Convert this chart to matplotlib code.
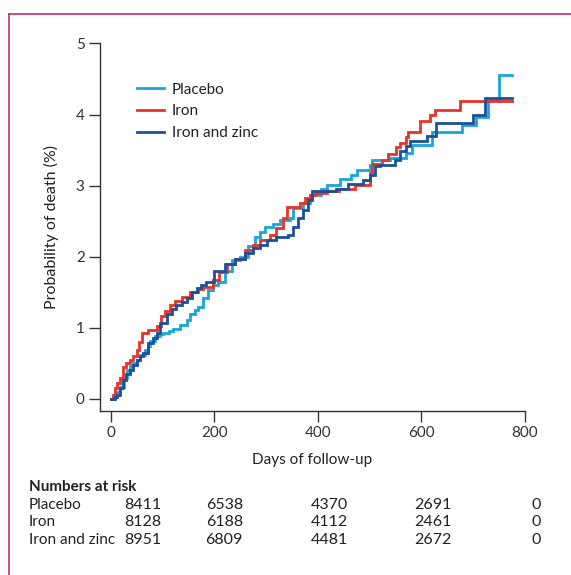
import matplotlib
matplotlib.use("Agg")
import matplotlib.pyplot as plt
from matplotlib.lines import Line2D

plt.rcParams['font.family'] = ['Lato', 'DejaVu Sans']

# Kaplan-Meier style step data (days, probability of death %)
placebo_days = [0, 5, 10, 18, 25, 31, 38, 44, 50, 57, 66, 72, 76, 86, 95, 102, 112, 121, 134, 147,
                153, 162, 169, 179, 188, 198, 208, 220, 235, 250, 265, 278, 288, 298, 314, 327, 346,
                352, 371, 385, 407, 417, 443, 465, 475, 500, 504, 540, 571, 581, 620, 678, 706, 729,
                750, 774]
placebo_prob = [0, 0.03, 0.10, 0.17, 0.30, 0.41, 0.46, 0.50, 0.55, 0.62, 0.69, 0.75, 0.81, 0.88, 0.91,
                0.93, 0.96, 0.99, 1.04, 1.11, 1.20, 1.25, 1.30, 1.42, 1.53, 1.60, 1.65, 1.80, 1.95, 2.00,
                2.15, 2.28, 2.35, 2.42, 2.46, 2.52, 2.54, 2.69, 2.75, 2.87, 2.96, 3.01, 3.10, 3.15, 3.22,
                3.29, 3.36, 3.39, 3.46, 3.57, 3.76, 3.85, 3.97, 4.20, 4.56, 4.56]

iron_days = [0, 4, 8, 12, 18, 24, 30, 37, 44, 50, 55, 60, 73, 89, 98, 105, 114, 125, 137, 153, 168,
             179, 198, 210, 225, 240, 260, 275, 288, 307, 320, 333, 340, 365, 375, 385, 394, 417, 440,
             471, 500, 504, 523, 535, 550, 558, 571, 575, 597, 598, 616, 626, 674, 774]
iron_prob = [0, 0.05, 0.15, 0.22, 0.30, 0.45, 0.50, 0.55, 0.60, 0.69, 0.80, 0.93, 0.97, 1.02, 1.16,
             1.24, 1.32, 1.38, 1.44, 1.51, 1.55, 1.58, 1.67, 1.78, 1.90, 1.97, 2.10, 2.17, 2.24, 2.31,
             2.40, 2.54, 2.70, 2.75, 2.82, 2.87, 2.89, 2.92, 2.96, 3.01, 3.18, 3.31, 3.36, 3.45, 3.55,
             3.60, 3.68, 3.76, 3.83, 3.91, 3.99, 4.07, 4.19, 4.19]

zinc_days = [0, 8, 12, 18, 24, 30, 37, 44, 50, 57, 63, 73, 82, 89, 95, 108, 118, 127, 137, 147, 157,
             166, 175, 185, 200, 220, 240, 260, 275, 288, 301, 320, 343, 352, 362, 371, 381, 388, 436,
             459, 488, 500, 510, 520, 549, 558, 571, 578, 610, 628, 699, 723, 774]
zinc_prob = [0, 0.02, 0.05, 0.15, 0.27, 0.35, 0.41, 0.48, 0.55, 0.60, 0.64, 0.79, 0.86, 0.93, 1.07,
             1.20, 1.27, 1.32, 1.37, 1.42, 1.50, 1.56, 1.60, 1.65, 1.80, 1.90, 1.97, 2.05, 2.12, 2.17,
             2.24, 2.28, 2.31, 2.42, 2.54, 2.66, 2.80, 2.92, 2.96, 3.03, 3.08, 3.15, 3.27, 3.29, 3.36,
             3.49, 3.56, 3.63, 3.70, 3.88, 3.99, 4.24, 4.24]

groups = ["Placebo", "Iron", "Iron and zinc"]
colors = ["#1aa6d4", "#e8332a", "#1c4f9c"]
at_risk = {
    "Placebo": [8411, 6538, 4370, 2691, 0],
    "Iron": [8128, 6188, 4112, 2461, 0],
    "Iron and zinc": [8951, 6809, 4481, 2672, 0],
}

W, H = 571, 575
fig = plt.figure(figsize=(W / 100, H / 100), dpi=100)
ax = fig.add_axes([100 / W, 1 - 411 / H, 425 / W, 367.5 / H])

series = [(placebo_days, placebo_prob), (iron_days, iron_prob), (zinc_days, zinc_prob)]
for (d, p), name, c in zip(series, groups, colors):
    ax.step(d, p, where="post", color=c, lw=2.0, label=name, solid_joinstyle="miter")

ax.set_xlim(-20.5, 800)
ax.set_ylim(-0.17, 5)
ax.set_xticks([0, 200, 400, 600, 800])
ax.set_yticks([0, 1, 2, 3, 4, 5])
for s in ["top", "right"]:
    ax.spines[s].set_visible(False)
for s in ["left", "bottom"]:
    ax.spines[s].set_color("#333333")
    ax.spines[s].set_linewidth(1.0)
ax.tick_params(direction="out", length=8, width=1.0, color="#333333",
               labelsize=11, labelcolor="#333333", pad=3)
ax.set_xlabel("Days of follow-up", fontsize=11, color="#222222", labelpad=9)
ax.set_ylabel("Probability of death (%)", fontsize=11.5, color="#222222", labelpad=12)

leg = ax.legend(loc="upper left", bbox_to_anchor=(0.087, 0.893), frameon=False,
                fontsize=11, handlelength=1.8, handletextpad=0.5, labelspacing=0.5,
                borderpad=0, borderaxespad=0)
for t in leg.get_texts():
    t.set_color("#222222")

# numbers at risk table
fig.text(29 / W, 1 - 487 / H, "Numbers at risk", fontsize=11, fontweight="bold",
         color="#222222", va="center", ha="left")
row_y = [505, 522, 540]
col_right = [161, 243, 348, 452, 541]
for name, y in zip(groups, row_y):
    fig.text(29 / W, 1 - y / H, name, fontsize=11, color="#222222", va="center", ha="left")
    for x, n in zip(col_right, at_risk[name]):
        fig.text(x / W, 1 - y / H, str(n), fontsize=11.5, color="#222222", va="center", ha="right")

# pink frame (top and left)
frame_c = "#c9305c"
fig.add_artist(Line2D([9 / W, 1], [1 - 14 / H, 1 - 14 / H], color=frame_c, lw=1.2))
fig.add_artist(Line2D([9 / W, 9 / W], [0, 1 - 14 / H], color=frame_c, lw=1.2))

fig.savefig("out.png", dpi=100)
